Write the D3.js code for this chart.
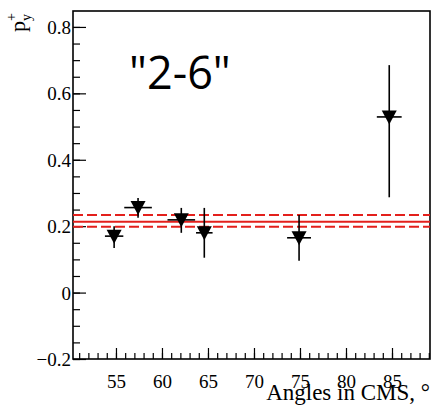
<!DOCTYPE html>
<html>
<head>
<meta charset="utf-8">
<script src="https://cdn.jsdelivr.net/npm/d3@7"></script>
<style>
  body { margin: 0; background: #fff; }
  svg { display: block; }
</style>
</head>
<body>
<svg id="chart"></svg>
<script>
// data
var angles = [54.8, 57.4, 62.1, 64.6, 74.9, 84.7];
var py = [0.17, 0.256, 0.219, 0.18, 0.165, 0.529];
var angleErr = [1.0, 1.5, 1.5, 0.9, 1.3, 1.35];
var pyLow = [0.134, 0.225, 0.18, 0.105, 0.096, 0.287];
var pyHigh = [0.20, 0.285, 0.255, 0.255, 0.234, 0.685];

var fitValue = 0.213;
var fitBand = [0.198, 0.234];

var xMajorTicks = [55, 60, 65, 70, 75, 80, 85];
var yMajorTicks = [-0.2, 0, 0.2, 0.4, 0.6, 0.8];

var width = 432, height = 406;
// note: "top" is taken by window.top, so prefix these
var plotLeft = 73, plotRight = 430, plotTop = 11, plotBottom = 359;

var svg = d3.select('#chart').attr('width', width).attr('height', height);

var x = d3.scaleLinear().domain([50.33, 89.13]).range([plotLeft, plotRight]);
var y = d3.scaleLinear().domain([-0.2, 0.848]).range([plotBottom, plotTop]);

function serifLabels (g) {
  g.select('.domain').remove();
  g.attr('font-family', null).attr('font-size', null);
  g.selectAll('text')
    .style('font-family', '"Liberation Serif", serif')
    .style('font-size', '19px')
    .attr('fill', '#000');
}

/* axes, ticks drawn inside the frame */
var yMinor = d3.range(-0.2, 0.85, 0.05);
var xMinor = d3.range(51, 90, 1);

svg.append('g')
  .attr('transform', 'translate(' + plotLeft + ',0)')
  .call(d3.axisLeft(y).tickValues(yMinor).tickSize(-7).tickFormat(''))
  .call(function (g) { g.select('.domain').remove(); });

var yAxis = svg.append('g')
  .attr('transform', 'translate(' + plotLeft + ',0)')
  .call(d3.axisLeft(y).tickValues(yMajorTicks).tickSize(-13).tickPadding(2)
    .tickFormat(function (d) { return d === 0 ? '0' : d3.format('.1f')(d).replace('-', '\u2212'); }))
  .call(serifLabels);
yAxis.selectAll('text').attr('dy', '0.34em');

svg.append('g')
  .attr('transform', 'translate(0,' + plotBottom + ')')
  .call(d3.axisBottom(x).tickValues(xMinor).tickSize(-6).tickFormat(''))
  .call(function (g) { g.select('.domain').remove(); });

var xAxis = svg.append('g')
  .attr('transform', 'translate(0,' + plotBottom + ')')
  .call(d3.axisBottom(x).tickValues(xMajorTicks).tickSize(-11))
  .call(serifLabels);
xAxis.selectAll('text').attr('y', 29).attr('dy', 0);

svg.selectAll('.tick line').attr('stroke', '#000').attr('stroke-width', 1.2);

/* frame */
svg.append('rect')
  .attr('x', plotLeft).attr('y', plotTop)
  .attr('width', plotRight - plotLeft).attr('height', plotBottom - plotTop)
  .attr('fill', 'none').attr('stroke', '#000').attr('stroke-width', 1.6);

/* red fit lines */
svg.append('line')
  .attr('x1', x.range()[0]).attr('x2', x.range()[1])
  .attr('y1', y(fitValue)).attr('y2', y(fitValue))
  .attr('stroke', '#e3201c').attr('stroke-width', 2);
svg.selectAll('.band').data(fitBand).enter()
  .append('line')
  .attr('x1', x.range()[0]).attr('x2', x.range()[1])
  .attr('y1', function (d) { return y(d); }).attr('y2', function (d) { return y(d); })
  .attr('stroke', '#e3201c').attr('stroke-width', 2)
  .attr('stroke-dasharray', '10,4');

/* points with error bars */
var pts = angles.map(function (a, i) {
  return { x: a, y: py[i], ex: angleErr[i], lo: pyLow[i], hi: pyHigh[i] };
});

var g = svg.selectAll('.pt').data(pts).enter().append('g');
g.append('line')
  .attr('x1', function (d) { return x(d.x); }).attr('x2', function (d) { return x(d.x); })
  .attr('y1', function (d) { return y(d.lo); }).attr('y2', function (d) { return y(d.hi); })
  .attr('stroke', '#000').attr('stroke-width', 1.6);
g.append('line')
  .attr('x1', function (d) { return x(d.x - d.ex); }).attr('x2', function (d) { return x(d.x + d.ex); })
  .attr('y1', function (d) { return y(d.y); }).attr('y2', function (d) { return y(d.y); })
  .attr('stroke', '#000').attr('stroke-width', 1.6);
g.append('path')
  .attr('d', 'M-7.5,-6.5L7.5,-6.5L0,7.5Z')
  .attr('transform', function (d) { return 'translate(' + x(d.x) + ',' + y(d.y) + ')'; })
  .attr('fill', '#000');

/* labels */
svg.append('text')
  .attr('x', 430).attr('y', 400)
  .attr('text-anchor', 'end')
  .style('font-family', '"Liberation Serif", serif')
  .style('font-size', '23px')
  .text('Angles in CMS, \u00b0');

var yl = svg.append('text')
  .attr('transform', 'translate(25,32) rotate(-90)')
  .style('font-family', '"Liberation Serif", serif')
  .style('font-size', '22px');
yl.append('tspan').text('p');
yl.append('tspan').style('font-size', '14px').attr('dy', -9).text('+');
yl.append('tspan').style('font-size', '14px').attr('dx', -8).attr('dy', 15).text('y');

svg.append('text')
  .attr('x', 129).attr('y', 89)
  .style('font-family', '"Open Sans", sans-serif')
  .style('font-size', '45px')
  .text('"2-6"');
</script>
</body>
</html>
